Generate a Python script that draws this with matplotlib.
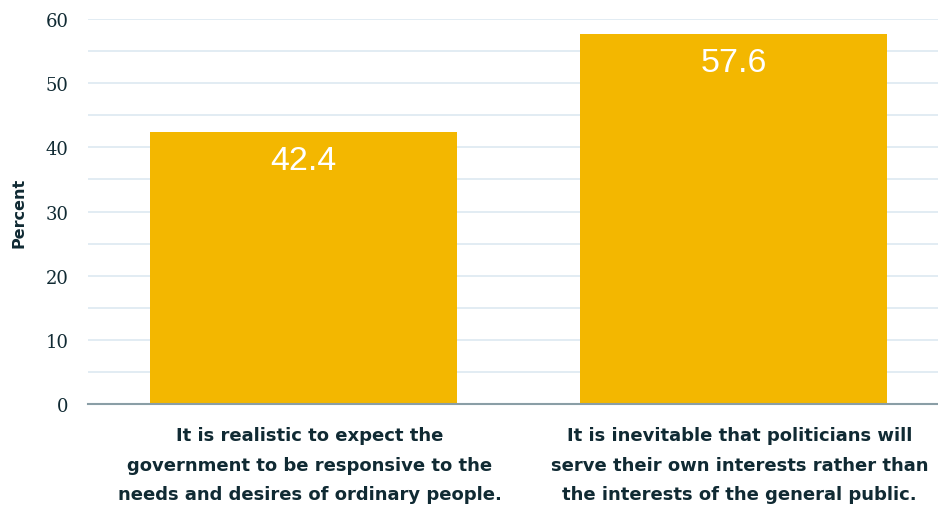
import matplotlib
matplotlib.use("Agg")
import matplotlib.pyplot as plt
from matplotlib.ticker import MultipleLocator
from matplotlib.transforms import ScaledTranslation

categories = [
    "It is realistic to expect the\ngovernment to be responsive to the\nneeds and desires of ordinary people.",
    "It is inevitable that politicians will\nserve their own interests rather than\nthe interests of the general public.",
]
values = [42.4, 57.6]
y_ticks = [0, 10, 20, 30, 40, 50, 60]

W, H = 938, 506
fig = plt.figure(figsize=(W / 100, H / 100), dpi=100)
ax = fig.add_axes([88 / W, (H - 405) / H, (W - 88) / W, 385 / H])

bar_color = "#F3B700"
text_dark = "#102A33"

x = list(range(len(categories)))
ax.bar(x, values, width=0.714, color=bar_color, zorder=3)

for xi, v in zip(x, values):
    ax.text(xi, v - 2.0, f"{v}", ha="center", va="top", color="white",
            fontsize=24.5, family=["Liberation Sans", "DejaVu Sans"], zorder=4)

ax.set_xlim(-0.501, 1.4756)
ax.set_ylim(0, 60)
ax.set_yticks(y_ticks)
ax.yaxis.set_minor_locator(MultipleLocator(5))
ax.grid(axis="y", which="both", color="#DDE9F1", linewidth=1.2, zorder=0)
ax.set_axisbelow(True)

for s in ["top", "right", "left"]:
    ax.spines[s].set_visible(False)
ax.spines["bottom"].set_color("#8A9EA6")
ax.spines["bottom"].set_linewidth(1.5)
ax.spines["bottom"].set_zorder(5)

ax.tick_params(axis="both", which="both", length=0)
ax.tick_params(axis="y", pad=14)
for lbl in ax.get_yticklabels():
    lbl.set_family(["DejaVu Serif"])
    lbl.set_fontsize(13)
    lbl.set_color(text_dark)

ax.set_xticks(x)
ax.set_xticklabels(categories, fontsize=13, fontweight="bold",
                   family=["DejaVu Sans"], color=text_dark,
                   linespacing=1.82)
ax.tick_params(axis="x", pad=16)
shift = ScaledTranslation(6 / 100, 0, fig.dpi_scale_trans)
for lbl in ax.get_xticklabels():
    lbl.set_transform(lbl.get_transform() + shift)

fig.text(19 / W, 1 - 213 / H, "Percent", rotation=90, ha="center", va="center",
         fontsize=11.5, fontweight="bold", family=["DejaVu Sans"],
         color=text_dark)

fig.savefig("out.png", dpi=100, facecolor="white")
